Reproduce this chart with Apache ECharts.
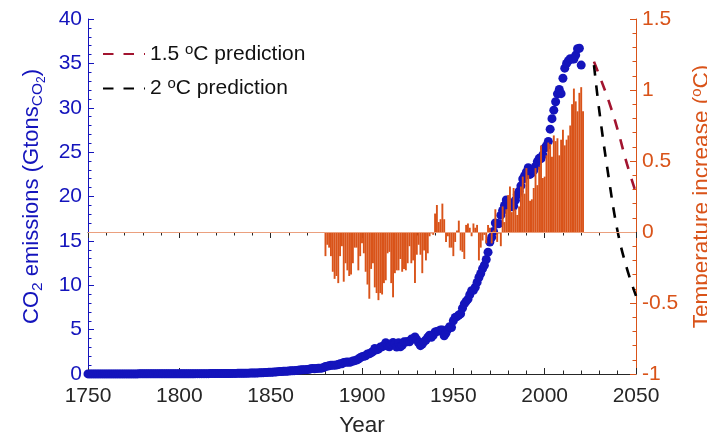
<!DOCTYPE html>
<html>
<head>
<meta charset="utf-8">
<script src="https://cdn.jsdelivr.net/npm/echarts@6/dist/echarts.min.js"></script>
<style>
html,body{margin:0;padding:0;background:#fff;}
#chart{width:707px;height:434px;}
</style>
</head>
<body>
<div id="chart"></div>
<script>
// CO2 emissions (Gt CO2), one value per year 1750..2020
const co2StartYear = 1750;
const co2Values = [
  0.009,0.009,0.009,0.009,0.009,0.010,0.010,0.010,0.010,0.010,
  0.010,0.011,0.011,0.011,0.011,0.011,0.012,0.012,0.012,0.012,
  0.012,0.013,0.013,0.013,0.013,0.014,0.014,0.014,0.015,0.015,
  0.015,0.016,0.016,0.017,0.017,0.018,0.018,0.019,0.019,0.020,
  0.021,0.021,0.022,0.023,0.023,0.024,0.025,0.026,0.027,0.027,
  0.028,0.029,0.030,0.030,0.031,0.032,0.033,0.034,0.034,0.035,
  0.036,0.037,0.038,0.039,0.040,0.041,0.041,0.043,0.044,0.045,
  0.046,0.048,0.050,0.052,0.054,0.056,0.058,0.060,0.062,0.064,
  0.066,0.070,0.074,0.078,0.082,0.086,0.090,0.094,0.097,0.100,
  0.103,0.110,0.118,0.126,0.134,0.142,0.152,0.165,0.178,0.187,
  0.197,0.205,0.220,0.236,0.261,0.270,0.285,0.296,0.300,0.321,
  0.342,0.358,0.360,0.380,0.405,0.430,0.440,0.465,0.470,0.490,
  0.503,0.540,0.585,0.620,0.590,0.620,0.640,0.660,0.660,0.720,
  0.852,0.880,0.930,0.990,1.000,1.000,1.010,1.060,1.160,1.160,
  1.305,1.330,1.340,1.310,1.360,1.460,1.500,1.570,1.680,1.830,
  1.952,2.000,2.050,2.260,2.270,2.400,2.530,2.870,2.730,2.800,
  3.030,3.060,3.200,3.520,3.160,3.060,3.320,3.560,3.430,3.040,
  3.520,3.070,3.230,3.620,3.610,3.660,3.620,3.930,3.930,4.180,
  3.880,3.500,3.190,3.370,3.650,3.830,4.130,4.360,4.140,4.370,
  4.730,4.800,4.840,4.970,4.960,4.300,4.620,5.040,5.330,5.240,
  6.000,6.380,6.460,6.650,6.780,7.420,7.900,8.190,8.430,8.930,
  9.390,9.430,9.780,10.320,10.870,11.320,11.860,12.250,12.900,13.730,
  14.870,15.410,16.070,17.010,16.950,16.940,17.900,18.440,18.980,19.610,
  19.380,18.990,18.840,18.930,19.590,20.200,20.600,21.200,21.970,22.340,
  22.760,23.240,22.490,22.670,22.920,23.400,23.930,24.300,24.260,24.690,
  25.450,25.720,26.210,27.590,28.770,29.730,30.680,31.570,32.050,31.590,
  33.320,34.460,34.980,35.290,35.530,35.490,35.490,35.930,36.650,36.700,
  34.810
];

// Temperature anomaly (deg C), one value per year 1880..2021
const tempStartYear = 1880;
const tempValues = [
  -0.17,-0.09,-0.11,-0.17,-0.28,-0.33,-0.31,-0.36,-0.17,-0.10,
  -0.35,-0.22,-0.27,-0.31,-0.30,-0.22,-0.11,-0.11,-0.27,-0.17,
  -0.08,-0.15,-0.28,-0.37,-0.47,-0.26,-0.22,-0.39,-0.43,-0.48,
  -0.43,-0.44,-0.36,-0.34,-0.15,-0.14,-0.36,-0.46,-0.29,-0.27,
  -0.27,-0.19,-0.28,-0.26,-0.27,-0.22,-0.10,-0.22,-0.20,-0.36,
  -0.16,-0.09,-0.16,-0.29,-0.13,-0.20,-0.15,-0.03,-0.01,-0.02,
  0.13,0.19,0.07,0.09,0.20,0.09,-0.07,-0.03,-0.11,-0.11,
  -0.17,-0.07,0.01,0.08,-0.13,-0.14,-0.19,0.05,0.06,0.03,
  -0.03,0.06,0.03,0.05,-0.20,-0.11,-0.06,-0.02,-0.08,0.05,
  0.03,-0.08,0.01,0.16,-0.07,-0.01,-0.10,0.18,0.07,0.16,
  0.26,0.32,0.14,0.31,0.16,0.12,0.18,0.32,0.39,0.27,
  0.45,0.40,0.22,0.23,0.31,0.45,0.33,0.46,0.61,0.38,
  0.39,0.54,0.63,0.62,0.53,0.68,0.64,0.66,0.54,0.65,
  0.72,0.61,0.65,0.68,0.75,0.90,1.01,0.92,0.85,0.98,
  1.02,0.85
];

// Emission pathway predictions (Gt CO2)
const predYears = [2027, 2030, 2035, 2040, 2045, 2050];
const pred15Values = [35.2, 33.6, 30.8, 27.5, 23.7, 20.4];
const pred20Values = [34.8, 29.5, 22.2, 16.0, 11.9, 8.8];

const xTicks = [1750, 1800, 1850, 1900, 1950, 2000, 2050];
const leftTicks = [0, 5, 10, 15, 20, 25, 30, 35, 40];
const rightTicks = [-1, -0.5, 0, 0.5, 1, 1.5];

const BLUE = '#1414BC';
const ORANGE = '#D95319';
const DARK = '#262626';
const FONT = '"Liberation Sans", Arial, Helvetica, sans-serif';
const DASH = [10.5, 10];

const co2Data = co2Values.map((v, i) => [co2StartYear + i, v]);
const tempData = tempValues.map((v, i) => [tempStartYear + i, v]);
const pred15Data = predYears.map((y, i) => [y, pred15Values[i]]);
const pred20Data = predYears.map((y, i) => [y, pred20Values[i]]);

const chart = echarts.init(document.getElementById('chart'), null, {renderer: 'canvas'});

const plainNum = function (v) { return String(v); };

const xCommon = {
  type: 'value',
  min: xTicks[0],
  max: xTicks[xTicks.length - 1],
  interval: 50,
  splitLine: {show: false},
  axisLine: {show: true, lineStyle: {color: DARK, width: 1}},
  axisTick: {show: true, inside: true, length: 6, lineStyle: {color: DARK}},
  minorTick: {show: true, splitNumber: 5, length: 3.5, lineStyle: {color: DARK}},
};

const option = {
  animation: false,
  backgroundColor: '#ffffff',
  textStyle: {fontFamily: FONT},
  grid: {left: 88, right: 71, top: 19, bottom: 60, containLabel: false, outerBoundsMode: 'none'},
  legend: {
    orient: 'vertical',
    left: 97,
    top: 37,
    itemWidth: 42,
    itemHeight: 14,
    itemGap: 12,
    data: ['1.5 °C prediction', '2 °C prediction'],
    itemStyle: {opacity: 0},
    formatter: function (name) {
      return name === '1.5 °C prediction' ? '{t|1.5 }{u|o}{t|C prediction}' : '{t|2 }{u|o}{t|C prediction}';
    },
    textStyle: {
      color: '#111111',
      fontSize: 21,
      fontFamily: FONT,
      rich: {
        t: {fontSize: 21, fontFamily: FONT, color: '#111111', lineHeight: 24},
        u: {fontSize: 15, fontFamily: FONT, color: '#111111', verticalAlign: 'top', lineHeight: 15}
      }
    }
  },
  xAxis: [
    Object.assign({}, xCommon, {
      position: 'bottom',
      name: 'Year',
      nameLocation: 'middle',
      nameGap: 40,
      nameTextStyle: {color: DARK, fontSize: 22.5, fontFamily: FONT},
      axisLabel: {color: DARK, fontSize: 21, fontFamily: FONT, margin: 12, formatter: plainNum}
    }),
    Object.assign({}, xCommon, {
      position: 'top',
      axisLabel: {show: false}
    })
  ],
  yAxis: [
    {
      type: 'value',
      position: 'left',
      min: leftTicks[0],
      max: leftTicks[leftTicks.length - 1],
      interval: 5,
      splitLine: {show: false},
      axisLine: {show: true, lineStyle: {color: BLUE, width: 1}},
      axisTick: {show: true, inside: true, length: 6, lineStyle: {color: BLUE}},
      minorTick: {show: true, splitNumber: 5, length: 3.5, lineStyle: {color: BLUE}},
      axisLabel: {color: BLUE, fontSize: 21, fontFamily: FONT, margin: 6, formatter: plainNum},
      name: '{a|CO}{s|2}{a| emissions (Gtons}{s|CO}{ss|2}{a|)}',
      nameLocation: 'middle',
      nameRotate: 90,
      nameGap: 40,
      nameTextStyle: {
        color: BLUE, fontSize: 22, fontFamily: FONT,
        rich: {
          a: {fontSize: 22, fontFamily: FONT, color: BLUE, lineHeight: 32, verticalAlign: 'middle'},
          s: {fontSize: 15.5, fontFamily: FONT, color: BLUE, lineHeight: 16, verticalAlign: 'bottom', padding: [0, 0, 2, 0]},
          ss: {fontSize: 12, fontFamily: FONT, color: BLUE, lineHeight: 12, verticalAlign: 'bottom'}
        }
      }
    },
    {
      type: 'value',
      position: 'right',
      min: rightTicks[0],
      max: rightTicks[rightTicks.length - 1],
      interval: 0.5,
      splitLine: {show: false},
      axisLine: {show: true, lineStyle: {color: ORANGE, width: 1}},
      axisTick: {show: true, inside: true, length: 6, lineStyle: {color: ORANGE}},
      minorTick: {show: true, splitNumber: 5, length: 3.5, lineStyle: {color: ORANGE}},
      axisLabel: {color: ORANGE, fontSize: 21, fontFamily: FONT, margin: 6, formatter: plainNum},
      name: '{a|Temperature increase (}{u|o}{a|C)}',
      nameLocation: 'middle',
      nameRotate: 90,
      nameGap: 44,
      nameTextStyle: {
        color: ORANGE, fontSize: 22.5, fontFamily: FONT,
        rich: {
          a: {fontSize: 22.5, fontFamily: FONT, color: ORANGE, lineHeight: 26},
          u: {fontSize: 15, fontFamily: FONT, color: ORANGE, lineHeight: 15, verticalAlign: 'top'}
        }
      }
    }
  ],
  series: [
    {
      name: 'CO2',
      type: 'scatter',
      xAxisIndex: 0,
      yAxisIndex: 0,
      data: co2Data,
      symbol: 'circle',
      symbolSize: 9,
      itemStyle: {color: BLUE, opacity: 1},
      z: 2,
      silent: true
    },
    {
      name: 'Temperature',
      type: 'bar',
      xAxisIndex: 0,
      yAxisIndex: 1,
      data: tempData,
      barWidth: 1.9,
      barGap: '-100%',
      itemStyle: {color: ORANGE},
      z: 3,
      silent: true,
      markLine: {
        silent: true,
        symbol: 'none',
        label: {show: false},
        lineStyle: {color: '#EBA07E', width: 1.2, type: 'solid'},
        data: [{yAxis: 0}]
      }
    },
    {
      name: '1.5 °C prediction',
      type: 'line',
      xAxisIndex: 0,
      yAxisIndex: 0,
      data: pred15Data,
      smooth: 0.4,
      symbol: 'none',
      lineStyle: {color: '#A2142F', width: 2.6, type: DASH},
      itemStyle: {color: '#A2142F'},
      z: 4
    },
    {
      name: '2 °C prediction',
      type: 'line',
      xAxisIndex: 0,
      yAxisIndex: 0,
      data: pred20Data,
      smooth: 0.4,
      symbol: 'none',
      lineStyle: {color: '#000000', width: 2.6, type: DASH},
      itemStyle: {color: '#000000'},
      z: 4
    }
  ]
};

chart.setOption(option);
</script>
</body>
</html>
